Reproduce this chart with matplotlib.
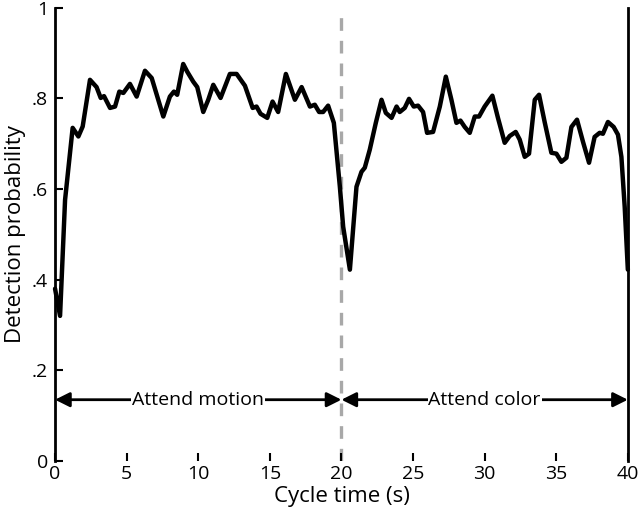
import matplotlib.pyplot as plt

# values
time_s = [0.0, 0.35, 0.7, 1.23, 1.63, 1.93, 2.44, 2.9, 3.19, 3.42, 3.84, 4.19, 4.49, 4.77,
          5.23, 5.7, 6.28, 6.75, 7.56, 8.02, 8.3, 8.53, 8.95, 9.23, 9.65, 9.93, 10.35,
          10.7, 11.05, 11.56, 12.21, 12.68, 13.26, 13.8, 14.07, 14.35, 14.82, 15.19,
          15.58, 16.12, 16.75, 17.22, 17.8, 18.14, 18.44, 18.72, 19.07, 19.47, 19.89,
          20.12, 20.59, 21.05, 21.4, 21.63, 21.98, 22.4, 22.8, 23.1, 23.5, 23.85, 24.07,
          24.42, 24.72, 25.05, 25.35, 25.7, 25.98, 26.4, 26.87, 27.29, 27.68, 28.03,
          28.31, 28.61, 28.96, 29.31, 29.61, 30.0, 30.54, 30.93, 31.4, 31.75, 32.17,
          32.45, 32.8, 33.1, 33.5, 33.8, 34.19, 34.66, 35.01, 35.36, 35.71, 36.06, 36.45,
          36.87, 37.29, 37.68, 38.03, 38.26, 38.61, 39.01, 39.31, 39.55, 39.78, 40.0]
detect_p = [0.38, 0.32, 0.576, 0.735, 0.716, 0.738, 0.841, 0.825, 0.801, 0.805, 0.779, 0.782,
            0.815, 0.812, 0.832, 0.804, 0.861, 0.845, 0.76, 0.804, 0.815, 0.808, 0.876,
            0.859, 0.837, 0.825, 0.77, 0.797, 0.83, 0.801, 0.854, 0.854, 0.828, 0.779,
            0.782, 0.766, 0.757, 0.793, 0.77, 0.854, 0.797, 0.825, 0.782, 0.786, 0.77,
            0.77, 0.784, 0.746, 0.605, 0.517, 0.422, 0.605, 0.638, 0.647, 0.687, 0.746,
            0.797, 0.768, 0.757, 0.782, 0.77, 0.779, 0.799, 0.782, 0.784, 0.77, 0.724,
            0.726, 0.782, 0.848, 0.797, 0.746, 0.751, 0.737, 0.724, 0.76, 0.76, 0.782,
            0.806, 0.757, 0.702, 0.717, 0.726, 0.709, 0.671, 0.678, 0.797, 0.808, 0.748,
            0.68, 0.678, 0.66, 0.669, 0.737, 0.753, 0.704, 0.658, 0.715, 0.724, 0.722,
            0.748, 0.737, 0.72, 0.671, 0.561, 0.422]

x_ticks = [0, 5, 10, 15, 20, 25, 30, 35, 40]
y_ticks = [0, 0.2, 0.4, 0.6, 0.8, 1.0]
y_ticklabels = ['0', '.2', '.4', '.6', '.8', '1']

# attention blocks: (start, end, label)
blocks = [(0, 20, 'Attend motion'), (20, 40, 'Attend color')]
arrow_y = 0.135

plt.rcParams['font.family'] = ['Open Sans', 'DejaVu Sans']

fig = plt.figure(figsize=(6.4, 5.19), dpi=100)
ax = fig.add_axes([0.086, 0.112, 0.895, 0.873])

ax.axvline(20, color='#a8a8a8', lw=2.4, ls=(0, (3.8, 3.0)), zorder=1)
ax.axvline(40, color='black', lw=2, zorder=2, clip_on=False)
ax.plot(time_s, detect_p, color='black', lw=3.2, solid_joinstyle='round',
        solid_capstyle='round', zorder=3, clip_on=False)

for start, end, label in blocks:
    ax.annotate('', xy=(start, arrow_y), xytext=(end, arrow_y),
                arrowprops=dict(arrowstyle='<|-|>', color='black', lw=2,
                                mutation_scale=22, shrinkA=0, shrinkB=0),
                zorder=4)
    ax.text((start + end) / 2, arrow_y, label, ha='center', va='center', fontsize=14,
            bbox=dict(facecolor='white', edgecolor='none', pad=0.5), zorder=5)

ax.set_xlim(0, 40)
ax.set_ylim(0, 1)
ax.set_xticks(x_ticks)
ax.set_yticks(y_ticks)
ax.set_yticklabels(y_ticklabels)
ax.tick_params(direction='in', length=6, width=1.5, labelsize=14, pad=3)
ax.tick_params(axis='y', pad=5)

for side in ['top', 'right', 'bottom']:
    ax.spines[side].set_visible(False)
ax.spines['left'].set_linewidth(2)

ax.set_xlabel('Cycle time (s)', fontsize=16, labelpad=2)
ax.set_ylabel('Detection probability', fontsize=16, labelpad=4)

fig.savefig('out.png', dpi=100)
